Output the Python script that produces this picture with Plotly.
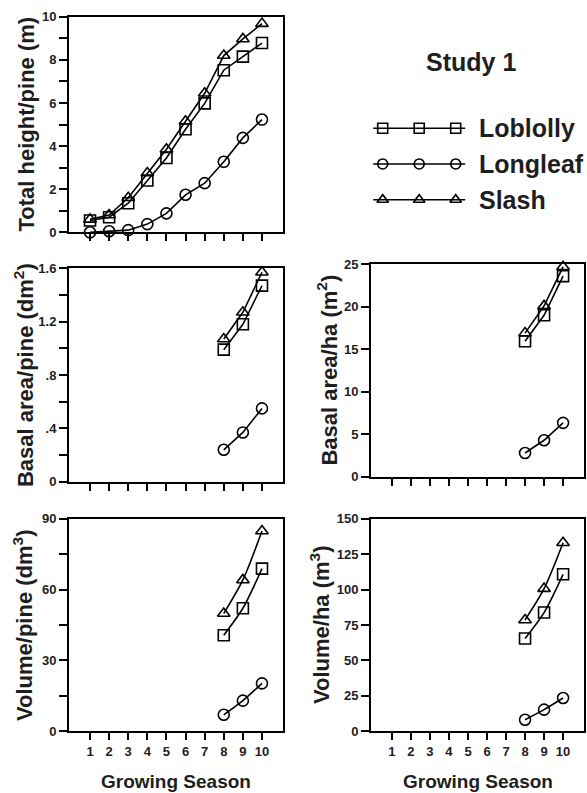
import plotly.graph_objects as go

W, H = 587, 793

seasons_all = [1, 2, 3, 4, 5, 6, 7, 8, 9, 10]
seasons_late = [8, 9, 10]

species = ["Loblolly", "Longleaf", "Slash"]
symbols = {"Loblolly": "square-open", "Longleaf": "circle-open", "Slash": "triangle-up-open"}

height_loblolly = [0.55, 0.7, 1.35, 2.4, 3.45, 4.78, 5.98, 7.52, 8.15, 8.78]
height_longleaf = [0.0, 0.05, 0.1, 0.38, 0.88, 1.74, 2.28, 3.27, 4.38, 5.23]
height_slash = [0.6, 0.8, 1.6, 2.75, 3.85, 5.15, 6.45, 8.2, 8.97, 9.68]

ba_pine_loblolly = [0.99, 1.18, 1.47]
ba_pine_longleaf = [0.24, 0.37, 0.55]
ba_pine_slash = [1.07, 1.27, 1.57]

ba_ha_loblolly = [15.95, 19.0, 23.6]
ba_ha_longleaf = [2.8, 4.3, 6.35]
ba_ha_slash = [16.9, 20.1, 24.7]

vol_pine_loblolly = [40.7, 52.1, 68.9]
vol_pine_longleaf = [7.0, 13.0, 20.3]
vol_pine_slash = [49.9, 64.1, 84.8]

vol_ha_loblolly = [65.5, 83.8, 110.8]
vol_ha_longleaf = [8.2, 15.3, 23.5]
vol_ha_slash = [78.6, 100.7, 133.1]

x_tick_labels = ["1", "2", "3", "4", "5", "6", "7", "8", "9", "10"]

legend_sample_x = [0, 1, 2]
legend_row_y = {"Loblolly": 2, "Longleaf": 1, "Slash": 0}

FONT = "Liberation Sans, Arial, Helvetica, sans-serif"
TXT = "#1e1e1e"

# vertical calibration for the page capture
Y_OFF, Y_SCALE = 6.25, 0.983


def px_x(p):
    return p / W


def px_y(p):
    return 1 - ((p - Y_OFF) / Y_SCALE) / H


panels = [
    ("", (69, 283), (16, 232),
     [height_loblolly, height_longleaf, height_slash], seasons_all,
     [0, 10], [0, 2, 4, 6, 8, 10], ["0", "2", "4", "6", "8", "10"], 1,
     "Total height/pine (m)", 27, False, False),
    ("2", (69, 283), (268, 482),
     [ba_pine_loblolly, ba_pine_longleaf, ba_pine_slash], seasons_late,
     [0, 1.6], [0, 0.4, 0.8, 1.2, 1.6], ["0", ".4", ".8", "1.2", "1.6"], 0.2,
     "Basal area/pine (dm<sup>2</sup>)", 24, False, False),
    ("3", (371, 584), (264, 477),
     [ba_ha_loblolly, ba_ha_longleaf, ba_ha_slash], seasons_late,
     [0, 25], [0, 5, 10, 15, 20, 25], ["0", "5", "10", "15", "20", "25"], None,
     "Basal area/ha (m<sup>2</sup>)", 327, False, False),
    ("4", (69, 283), (519, 732),
     [vol_pine_loblolly, vol_pine_longleaf, vol_pine_slash], seasons_late,
     [0, 90], [0, 30, 60, 90], ["0", "30", "60", "90"], 15,
     "Volume/pine (dm<sup>3</sup>)", 23, True, True),
    ("5", (371, 584), (519, 732),
     [vol_ha_loblolly, vol_ha_longleaf, vol_ha_slash], seasons_late,
     [0, 150], [0, 25, 50, 75, 100, 125, 150], ["0", "25", "50", "75", "100", "125", "150"], None,
     "Volume/ha (m<sup>3</sup>)", 320, True, True),
]

fig = go.Figure()
layout = dict(
    width=W, height=H,
    margin=dict(l=0, r=0, t=0, b=0),
    paper_bgcolor="white", plot_bgcolor="white",
    showlegend=False,
    font=dict(family=FONT, color=TXT),
)
annotations = []

for (suf, xr, yr, series, xv, yrange, tv, tt, minor, title, tx, showx, spline) in panels:
    xa = "x" + suf
    ya = "y" + suf
    for name, vals in zip(species, series):
        fig.add_trace(go.Scatter(
            x=xv, y=vals, xaxis=xa, yaxis=ya,
            mode="lines+markers",
            line=dict(color="black", width=1.6, shape="spline" if spline else "linear", smoothing=0.8),
            marker=dict(symbol=symbols[name], size=11, color="black", line=dict(width=1.6, color="black")),
            cliponaxis=False, name=name,
        ))
    xkey = "xaxis" + suf
    ykey = "yaxis" + suf
    xax = dict(
        domain=[px_x(xr[0]), px_x(xr[1])],
        anchor=ya, range=[-0.1, 11.1],
        showline=True, linecolor="black", linewidth=2, mirror=True,
        ticks="outside", ticklen=7, tickwidth=2, tickcolor="black",
        tickvals=seasons_all,
        showticklabels=showx,
        tickfont=dict(family=FONT, size=13, color=TXT, weight="bold"),
        showgrid=False, zeroline=False, fixedrange=True,
    )
    if showx:
        xax["ticktext"] = x_tick_labels
    layout[xkey] = xax
    yax = dict(
        domain=[px_y(yr[1]), px_y(yr[0])],
        anchor=xa, range=yrange,
        showline=True, linecolor="black", linewidth=2, mirror=True,
        ticks="outside", ticklen=8, tickwidth=2, tickcolor="black",
        tickvals=tv, ticktext=tt,
        tickfont=dict(family=FONT, size=13, color=TXT, weight="bold"),
        showgrid=False, zeroline=False, fixedrange=True,
    )
    if minor:
        yax["minor"] = dict(dtick=minor, tick0=0, ticks="outside", ticklen=8, tickwidth=2,
                            tickcolor="black", showgrid=False)
    layout[ykey] = yax
    annotations.append(dict(
        text=title, xref="paper", yref="paper",
        x=px_x(tx), y=px_y((yr[0] + yr[1]) / 2),
        xanchor="center", yanchor="middle", textangle=-90, showarrow=False,
        font=dict(family=FONT, size=22, color=TXT, weight="bold"),
    ))
    if showx:
        annotations.append(dict(
            text="Growing Season", xref="paper", yref="paper",
            x=px_x((xr[0] + xr[1]) / 2), y=px_y(782),
            xanchor="center", yanchor="middle", showarrow=False,
            font=dict(family=FONT, size=19, color=TXT, weight="bold"),
        ))

# Legend panel (hidden axes)
for name in species:
    yrow = legend_row_y[name]
    fig.add_trace(go.Scatter(
        x=[legend_sample_x[0] - 0.26, legend_sample_x[-1] + 0.26], y=[yrow, yrow],
        xaxis="x6", yaxis="y6", mode="lines",
        line=dict(color="black", width=1.6), hoverinfo="skip", cliponaxis=False,
    ))
    fig.add_trace(go.Scatter(
        x=legend_sample_x, y=[yrow] * len(legend_sample_x),
        xaxis="x6", yaxis="y6", mode="markers",
        marker=dict(symbol=symbols[name], size=10, color="black", line=dict(width=1.6, color="black")),
        hoverinfo="skip", cliponaxis=False,
    ))
    annotations.append(dict(
        text=name, xref="paper", yref="y6", x=px_x(477), y=yrow,
        xanchor="left", yanchor="middle", showarrow=False,
        font=dict(family=FONT, size=25, color=TXT, weight="bold"),
    ))

layout["xaxis6"] = dict(domain=[px_x(364.45), px_x(473.95)], range=[-0.5, 2.5], anchor="y6",
                        visible=False, fixedrange=True)
layout["yaxis6"] = dict(domain=[px_y(217.2), px_y(109.8)], range=[-0.5, 2.5], anchor="x6",
                        visible=False, fixedrange=True)

annotations.append(dict(
    text="Study 1", xref="paper", yref="paper", x=px_x(471), y=px_y(61),
    xanchor="center", yanchor="middle", showarrow=False,
    font=dict(family=FONT, size=25, color=TXT, weight="bold"),
))

layout["annotations"] = annotations
fig.update_layout(**layout)
fig.write_html(
    "out.html",
    config={"displayModeBar": False},
    post_script="document.body.style.margin='0px';document.body.style.overflow='hidden';",
)
